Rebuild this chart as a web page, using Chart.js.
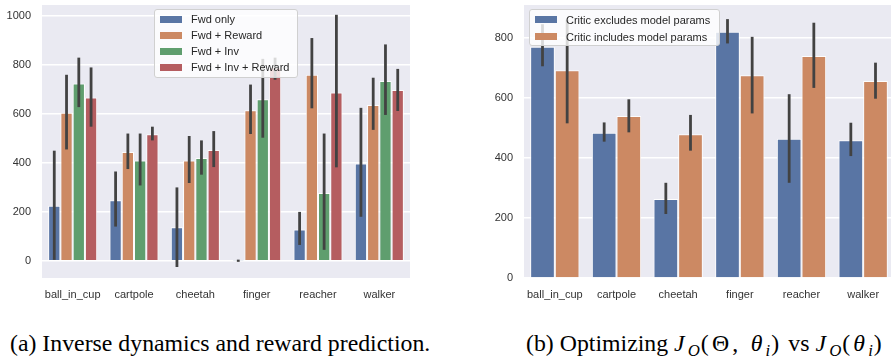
<!DOCTYPE html>
<html>
<head>
<meta charset="utf-8">
<script src="https://cdn.jsdelivr.net/npm/chart.js@4.4.1/dist/chart.umd.min.js"></script>
<style>
  html, body { margin: 0; padding: 0; background: #fff; overflow: hidden; }
  body { width: 891px; height: 356px; position: relative; font-family: "Liberation Sans", Arial, sans-serif; }
  canvas { position: absolute; top: 0; }
  #chartA { left: 0; }
  #chartB { left: 482px; }
  .legend { position: absolute; box-sizing: border-box; background: rgba(255,255,255,0.8); border: 1px solid #d0d0d0;
            border-radius: 3px; font-size: 11px; color: #262626; padding: 0 0 0 5px; }
  .legend .row { display: flex; align-items: center; height: 16px; white-space: nowrap; }
  .legend .sw { width: 22px; height: 7px; margin-right: 9px; flex: none; }
  #legA { left: 154px; top: 9px; width: 144px; height: 69px; }
  #legA .row:first-child { margin-top: 1px; }
  #legB { left: 529px; top: 9px; width: 191px; height: 37px; }
  #legB .row:first-child { margin-top: 1px; }
  #legB .row { height: 17px; }
  .cap { position: absolute; font-family: "Liberation Serif", "Times New Roman", serif; font-size: 23.8px; color: #000;
         white-space: nowrap; line-height: 1; }
  .cap .m { letter-spacing: 3.2px; }
  .cap sub { font-size: 0.7em; vertical-align: -0.3em; line-height: 0; letter-spacing: 1px; }
  #capA { left: 10px; top: 332px; }
  #capB { left: 526px; top: 332px; }
</style>
</head>
<body>
<canvas id="chartA" width="410" height="308"></canvas>
<canvas id="chartB" width="412" height="308"></canvas>
<div class="legend" id="legA"></div>
<div class="legend" id="legB"></div>
<div class="cap" id="capA">(a) Inverse dynamics and reward prediction.</div>
<div class="cap" id="capB">(b) Optimizing <span class="m"><i>J</i><sub><i>Q</i></sub>(Θ, <i>θ</i><sub><i>i</i></sub>)</span> vs <span class="m"><i>J</i><sub><i>Q</i></sub>(<i>θ</i><sub><i>i</i></sub>)</span></div>
<script>
const tasks = ['ball_in_cup', 'cartpole', 'cheetah', 'finger', 'reacher', 'walker'];

// (a) inverse dynamics / reward prediction
const seriesA = ['Fwd only', 'Fwd + Reward', 'Fwd + Inv', 'Fwd + Inv + Reward'];
const fwdOnly = [225, 248, 137, 1, 128, 398];
const fwdOnlyLo = [4, 140, -25, -4, 65, 180];
const fwdOnlyHi = [450, 365, 300, 5, 200, 625];
const fwdReward = [605, 445, 410, 615, 760, 637];
const fwdRewardLo = [455, 375, 318, 518, 623, 535];
const fwdRewardHi = [760, 520, 510, 720, 910, 748];
const fwdInv = [724, 410, 420, 660, 277, 735];
const fwdInvLo = [628, 308, 352, 503, 45, 596];
const fwdInvHi = [830, 520, 492, 825, 520, 884];
const fwdInvReward = [667, 517, 453, 790, 688, 698];
const fwdInvRewardLo = [548, 492, 383, 740, 382, 612];
const fwdInvRewardHi = [790, 548, 530, 830, 1005, 784];
const ticksA = [0, 200, 400, 600, 800, 1000];

// (b) critic with / without model params
const seriesB = ['Critic excludes model params', 'Critic includes model params'];
const excl = [770, 484, 263, 820, 464, 459];
const exclLo = [705, 454, 213, 781, 317, 406];
const exclHi = [845, 518, 317, 862, 612, 517];
const incl = [692, 539, 479, 675, 739, 656];
const inclLo = [515, 485, 424, 548, 633, 597];
const inclHi = [860, 595, 543, 803, 850, 717];
const ticksB = [0, 200, 400, 600, 800];

const colors = ['#5975a4', '#cc8963', '#5f9e6e', '#b55d60'];
const fontFam = '"Liberation Sans", Arial, sans-serif';

const bgPlugin = {
    id: 'bg',
    beforeDraw(chart) {
        const a = chart.chartArea, ctx = chart.ctx;
        ctx.save();
        ctx.fillStyle = '#eaeaf2';
        ctx.fillRect(a.left, a.top, a.right - a.left, a.bottom - a.top);
        ctx.restore();
    }
};

const errorBars = {
    id: 'errorBars',
    afterDatasetsDraw(chart) {
        const ctx = chart.ctx, y = chart.scales.y;
        ctx.save();
        ctx.strokeStyle = '#424242';
        ctx.lineWidth = 2.8;
        chart.data.datasets.forEach((ds, i) => {
            chart.getDatasetMeta(i).data.forEach((bar, j) => {
                ctx.beginPath();
                ctx.moveTo(bar.x, y.getPixelForValue(ds.errLo[j]));
                ctx.lineTo(bar.x, y.getPixelForValue(ds.errHi[j]));
                ctx.stroke();
            });
        });
        ctx.restore();
    }
};

function makeChart(id, labels, values, lows, highs, yMin, yMax, tickVals) {
    const datasets = labels.map((l, i) => ({
        label: l,
        data: values[i],
        errLo: lows[i],
        errHi: highs[i],
        backgroundColor: colors[i],
        borderColor: 'rgba(255,255,255,0.9)',
        borderWidth: 1,
        categoryPercentage: 0.8,
        barPercentage: 1.0
    }));
    return new Chart(document.getElementById(id), {
        type: 'bar',
        data: { labels: tasks, datasets: datasets },
        plugins: [bgPlugin, errorBars],
        options: {
            responsive: false,
            animation: false,
            devicePixelRatio: 1,
            layout: { padding: { top: 5, left: 0, right: 0, bottom: 0 } },
            plugins: { legend: { display: false }, tooltip: { enabled: false } },
            scales: {
                x: {
                    grid: { display: false },
                    border: { display: false },
                    ticks: { padding: 2, color: '#333', autoSkip: false, maxRotation: 0, minRotation: 0,
                             font: { size: 11, family: fontFam } },
                    afterFit: s => { s.height = 30; s.paddingLeft = 0; s.paddingRight = 0; }
                },
                y: {
                    min: yMin,
                    max: yMax,
                    grid: { color: '#ffffff', lineWidth: 1.5, drawTicks: false },
                    border: { display: false },
                    ticks: { padding: 11, color: '#333', font: { size: 11, family: fontFam },
                             callback: v => String(v) },
                    afterBuildTicks: s => { s.ticks = tickVals.map(v => ({ value: v })); },
                    afterFit: s => { s.width = 42; s.paddingTop = 0; s.paddingBottom = 0; }
                }
            }
        }
    });
}

function fillLegend(id, labels) {
    const box = document.getElementById(id);
    labels.forEach((l, i) => {
        const row = document.createElement('div');
        row.className = 'row';
        row.innerHTML = '<span class="sw" style="background:' + colors[i] + '"></span><span>' + l + '</span>';
        box.appendChild(row);
    });
}

makeChart('chartA', seriesA,
    [fwdOnly, fwdReward, fwdInv, fwdInvReward],
    [fwdOnlyLo, fwdRewardLo, fwdInvLo, fwdInvRewardLo],
    [fwdOnlyHi, fwdRewardHi, fwdInvHi, fwdInvRewardHi],
    -70, 1045, ticksA);
makeChart('chartB', seriesB, [excl, incl], [exclLo, inclLo], [exclHi, inclHi], 0, 909, ticksB);
fillLegend('legA', seriesA);
fillLegend('legB', seriesB);
</script>
</body>
</html>
